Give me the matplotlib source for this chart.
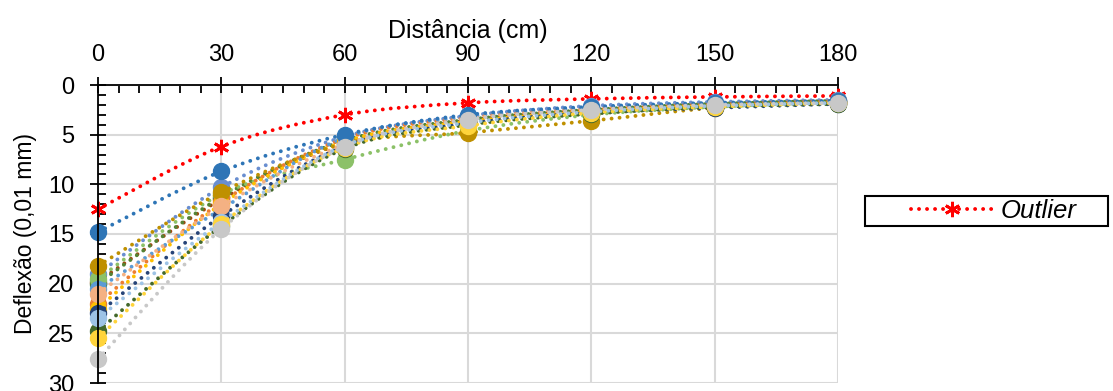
import numpy as np
import matplotlib.pyplot as plt
from matplotlib.path import Path
from matplotlib.patches import PathPatch, Rectangle
from matplotlib.lines import Line2D
from matplotlib.ticker import MultipleLocator

plt.rcParams['font.family'] = ['Liberation Sans', 'DejaVu Sans']

# distâncias (cm)
distancia = [0, 30, 60, 90, 120, 150, 180]

# bacias de deflexão (0,01 mm)
outlier = [12.5, 6.2, 3.0, 1.8, 1.4, 1.2, 1.1]
bacias = [
    [19.0, 10.3, 5.2, 3.1, 2.1, 1.7, 1.5],
    [19.8, 11.5, 5.8, 3.6, 2.6, 2.0, 1.7],
    [20.0, 11.3, 5.6, 3.5, 2.5, 1.9, 1.6],
    [19.5, 11.0, 7.5, 4.6, 3.0, 2.2, 1.7],
    [22.0, 11.8, 5.4, 3.3, 2.4, 1.9, 1.6],
    [20.5, 12.5, 5.3, 3.2, 2.3, 1.9, 1.6],
    [22.5, 12.0, 5.7, 3.7, 2.7, 2.1, 1.8],
    [18.2, 10.8, 5.9, 4.8, 3.6, 2.3, 1.8],
    [23.0, 13.2, 6.2, 3.9, 2.8, 2.3, 1.9],
    [24.8, 14.2, 6.4, 4.0, 2.9, 2.2, 1.9],
    [21.0, 12.2, 6.0, 3.4, 2.5, 2.0, 1.7],
    [23.5, 13.8, 6.1, 3.8, 2.7, 2.1, 1.8],
    [25.5, 14.0, 6.3, 4.1, 2.8, 2.2, 1.8],
    [14.8, 8.7, 5.0, 3.0, 2.2, 1.8, 1.6],
    [27.6, 14.5, 6.2, 3.5, 2.5, 2.0, 1.8],
]
cores = ['#698ED0', '#9E480E', '#548235', '#8CC168', '#ED7D31', '#5B9BD5',
         '#FFC000', '#BF9000', '#264478', '#43682B', '#F4B183', '#9DC3E6',
         '#FFD43B', '#2E75B6', '#C8C8C8']

LW = 2.8
DOT = (0, (0.01, 2.05))
ESTRELA = (6, 2, 0)


def curva_suave(ax, x, y, cor, z):
    # curva suavizada estilo Excel (bezier cubico)
    x = np.asarray(x, float)
    y = np.asarray(y, float)
    n = len(x)
    verts = [(x[0], y[0])]
    codes = [Path.MOVETO]
    for i in range(n - 1):
        x0, y0 = (x[i - 1], y[i - 1]) if i > 0 else (x[i], y[i])
        x3, y3 = (x[i + 2], y[i + 2]) if i + 2 < n else (x[i + 1], y[i + 1])
        c1 = (x[i] + (x[i + 1] - x0) / 6, y[i] + (y[i + 1] - y0) / 6)
        c2 = (x[i + 1] - (x3 - x[i]) / 6, y[i + 1] - (y3 - y[i]) / 6)
        verts += [c1, c2, (x[i + 1], y[i + 1])]
        codes += [Path.CURVE4] * 3
    p = PathPatch(Path(verts, codes), facecolor='none', edgecolor=cor,
                  lw=LW, linestyle=DOT, capstyle='round', zorder=z)
    ax.add_patch(p)


fig = plt.figure(figsize=(11.13, 3.91), dpi=100)
ax = fig.add_axes([98 / 1113, 1 - 383 / 391, 740 / 1113, 298 / 391])

curva_suave(ax, distancia, outlier, '#FF0000', 3)
ax.plot(distancia, outlier, linestyle='none', marker=ESTRELA,
        markersize=11, markeredgewidth=2, color='#FF0000', zorder=3,
        clip_on=False)

for k, (b, c) in enumerate(zip(bacias, cores)):
    curva_suave(ax, distancia, b, c, 4 + k)
    ax.plot(distancia, b, linestyle='none', marker='o', markersize=11.5,
            markerfacecolor=c, markeredgecolor=c, zorder=4 + k, clip_on=False)

ax.set_xlim(0, 180)
ax.set_ylim(30, 0)
ax.xaxis.set_major_locator(MultipleLocator(30))
ax.xaxis.set_minor_locator(MultipleLocator(5))
ax.yaxis.set_major_locator(MultipleLocator(5))
ax.yaxis.set_minor_locator(MultipleLocator(1))
ax.xaxis.tick_top()
ax.xaxis.set_label_position('top')

ax.tick_params(which='major', direction='inout', length=12, width=1.3,
               labelsize=17, color='black')
ax.tick_params(which='minor', direction='in', length=6, width=1.3, color='black')
ax.tick_params(axis='x', which='both', top=True, bottom=False)
ax.tick_params(axis='x', which='major', pad=8)
ax.tick_params(axis='y', which='both', left=True, right=False)
ax.tick_params(axis='y', which='major', pad=11)

ax.grid(True, which='major', color='#D9D9D9', lw=1.5, zorder=0)
ax.set_axisbelow(True)
for s in ['right', 'bottom']:
    ax.spines[s].set_visible(False)
for s in ['left', 'top']:
    ax.spines[s].set_linewidth(1.3)
    ax.spines[s].set_zorder(50)

ax.set_xlabel('Distância (cm)', fontsize=18, labelpad=4)
ax.set_ylabel('Deflexão (0,01 mm)', fontsize=16.5, labelpad=8)

# legenda
fig.patches.append(Rectangle((865 / 1113, 1 - 226 / 391), 243 / 1113, 30 / 391,
                             transform=fig.transFigure, facecolor='white',
                             edgecolor='black', lw=1.5))
h = Line2D([], [], color='#FF0000', lw=LW, linestyle=DOT,
           dash_capstyle='round', marker=ESTRELA, markersize=11,
           markeredgewidth=2)
fig.legend([h], ['Outlier'], loc='center', bbox_to_anchor=(994 / 1113, 1 - 211 / 391),
           frameon=False, prop={'size': 18.5, 'style': 'italic'},
           handlelength=3.2, handletextpad=0.3)

fig.savefig('out.png', dpi=100)
